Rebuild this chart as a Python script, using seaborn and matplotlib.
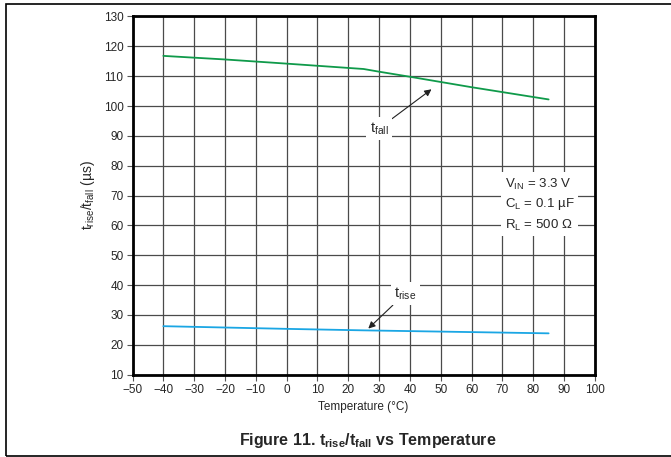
import numpy as np
import pandas as pd
import matplotlib
matplotlib.use("Agg")
import matplotlib.pyplot as plt
import matplotlib.patches as mpatches
import seaborn as sns

# Data
temp_fall = [-40, -20, 0, 25, 30, 40, 60, 85]
t_fall = [116.8, 115.6, 114.2, 112.4, 111.5, 109.8, 106.3, 102.2]
temp_rise = [-40, 0, 25, 85]
t_rise = [26.2, 25.3, 24.8, 23.8]
x_ticks = list(range(-50, 101, 10))
y_ticks = list(range(10, 131, 10))

df = pd.concat([
    pd.DataFrame({"Temperature": temp_fall, "t": t_fall, "series": "fall"}),
    pd.DataFrame({"Temperature": temp_rise, "t": t_rise, "series": "rise"}),
])

sns.set_theme(style="white")
plt.rcParams["font.family"] = ["Liberation Sans", "DejaVu Sans"]
plt.rcParams["mathtext.fontset"] = "custom"
plt.rcParams["mathtext.rm"] = "Liberation Sans"
plt.rcParams["mathtext.it"] = "Liberation Sans:italic"
plt.rcParams["mathtext.bf"] = "Liberation Sans:bold"

fig = plt.figure(figsize=(6.71, 4.57), dpi=100)
ax = fig.add_axes([0.1975, 0.1805, 0.689, 0.7834])

sns.lineplot(data=df, x="Temperature", y="t", hue="series",
             palette={"fall": "#0f9a4a", "rise": "#1aa6e4"},
             linewidth=1.3, legend=False, ax=ax, sort=True)

ax.set_xlim(-50, 100)
ax.set_ylim(10, 130)
ax.set_xticks(x_ticks)
ax.set_yticks(y_ticks)
ax.set_xticklabels(["\u2212" + str(-v) if v < 0 else str(v) for v in x_ticks])
ax.grid(True, color="#4a4a4a", linewidth=0.9)
ax.set_axisbelow(True)
for s in ax.spines.values():
    s.set_linewidth(2.0)
    s.set_color("black")
    s.set_visible(True)
ax.tick_params(axis="both", which="major", direction="out", length=4, width=0.8,
               color="#555555", labelsize=8.5, pad=2.5, bottom=True, left=True)

ax.set_xlabel("Temperature (°C)", fontsize=8.5, labelpad=4)
ax.set_ylabel(r"$\mathregular{t_{rise}/t_{fall}}$ (µs)", fontsize=10, labelpad=5)

bb = dict(boxstyle="square,pad=0.25", fc="white", ec="none")
ap = dict(arrowstyle="-|>", color="#222222", lw=0.8, mutation_scale=10, shrinkA=0, shrinkB=0)
ax.annotate(r"$\mathregular{t_{fall}}$", xy=(47, 105.6), xytext=(30, 92.5),
            fontsize=10.5, ha="center", va="center", bbox=bb, arrowprops=ap)
ax.annotate(r"$\mathregular{t_{rise}}$", xy=(26.5, 25.4), xytext=(38.5, 37.2),
            fontsize=10.5, ha="center", va="center", bbox=bb, arrowprops=ap)

ax.text(70.8, 67, "V$_\\mathregular{IN}$ = 3.3 V\nC$_\\mathregular{L}$ = 0.1 µF\nR$_\\mathregular{L}$ = 500 Ω",
        fontsize=9.5, ha="left", va="center", linespacing=1.45,
        bbox=dict(boxstyle="square,pad=0.3", fc="white", ec="none"))

fig.text(0.548, 0.037, r"Figure 11. $\mathbf{t_{rise}/t_{fall}}$ vs Temperature",
         fontsize=11.5, fontweight="bold", ha="center", va="center")

border = mpatches.Rectangle((6 / 671, 1 - 456 / 457), 1.0, (456 - 4) / 457,
                            transform=fig.transFigure, fill=False, ec="black", lw=1.2)
fig.patches.append(border)

fig.savefig("out.png", dpi=100)
